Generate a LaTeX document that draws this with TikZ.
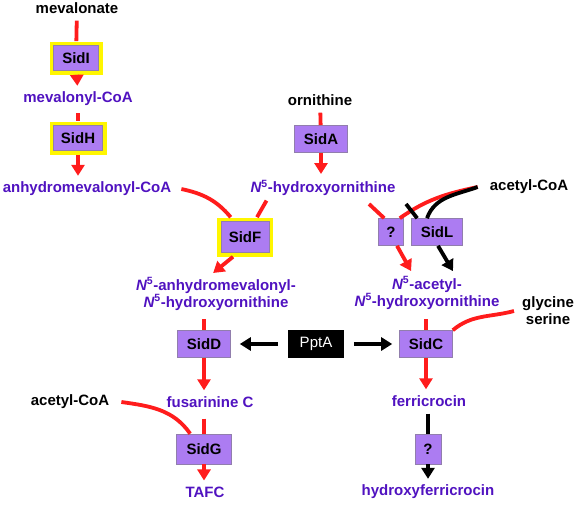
\documentclass[tikz,border=0pt]{standalone}
\usepackage{fontspec}
\setmainfont{Liberation Sans}
\usetikzlibrary{arrows.meta}
\definecolor{pathred}{RGB}{255,28,28}
\definecolor{prodviolet}{RGB}{80,18,192}
\definecolor{enzlilac}{RGB}{172,124,242}
\definecolor{frameyellow}{RGB}{255,246,0}
\newcommand{\Nf}{{\itshape N}\textsuperscript{5}}

\begin{document}
\begin{tikzpicture}[x=1pt,y=1pt,
  font=\fontsize{15}{17}\selectfont\bfseries,
  enz/.style={draw=gray!60!enzlilac, line width=0.6pt, fill=enzlilac, minimum width=53pt, minimum height=27pt, inner sep=2pt},
  framed/.style={enz, preaction={draw=frameyellow, line width=8pt}},
  redline/.style={draw=pathred, line width=3.8pt},
  redarrow/.style={redline, -{Triangle[length=11pt,width=13pt]}, shorten >=4pt},
  blackline/.style={draw=black, line width=3.8pt},
  blackarrow/.style={blackline, -{Triangle[length=11pt,width=13pt]}, shorten >=4pt}]
\useasboundingbox (0,0) rectangle (577,-506);

\begin{scope}[every node/.style={inner sep=2pt}]
\node (mev) at (77,-8) {mevalonate};
\node (orn) at (320,-100) {ornithine};
\node (acoaL) at (70,-402) {acetyl-CoA};
\node (acoaR) at (529,-187) {acetyl-CoA};
\node[align=center] (gly) at (548,-311) {glycine\\serine};
\end{scope}

\begin{scope}[every node/.style={inner sep=2pt, text=prodviolet}]
\node (mevcoa) at (78,-99) {mevalonyl-CoA};
\node (anhcoa) at (87,-189) {anhydromevalonyl-CoA};
\node (hyorn) at (323,-188) {\Nf-hydroxyornithine};
\node[align=center] (anhhy) at (216,-294) {\Nf-anhydromevalonyl-\\\Nf-hydroxyornithine};
\node[align=center] (acetyl) at (427,-293) {\Nf-acetyl-\\\Nf-hydroxyornithine};
\node (fus) at (210,-402) {fusarinine C};
\node (ferri) at (429,-401) {ferricrocin};
\node (tafc) at (205,-492) {TAFC};
\node (hyferri) at (428,-492) {hydroxyferricrocin};
\end{scope}

\begin{scope}[every node/.style={enz}]
\node[framed, minimum width=45pt, minimum height=25pt] (sidI) at (76,-58) {SidI};
\node[framed, minimum width=49pt, minimum height=25pt] (sidH) at (78,-138) {SidH};
\node[framed, minimum width=48pt, minimum height=31pt] (sidF) at (245,-237) {SidF};
\node (sidA) at (321,-139) {SidA};
\node (sidD) at (204,-344) {SidD};
\node (sidC) at (426,-344) {SidC};
\node[minimum width=55pt, minimum height=30pt] (sidG) at (204,-449) {SidG};
\node[minimum width=25pt] (qU) at (391,-232) {?};
\node[minimum width=51pt] (sidL) at (437,-232) {SidL};
\node[minimum width=26pt, minimum height=30pt] (qD) at (428,-449) {?};
\node[fill=black, draw=black, text=white, font=\fontsize{15}{17}\selectfont\mdseries, minimum width=55pt] (pptA) at (316,-344) {PptA};
\end{scope}

\draw[redline, shorten <=5pt, shorten >=4pt] (mev) -- (sidI);
\draw[redarrow, shorten <=4pt] (sidI) -- (mevcoa);
\draw[redline, shorten <=5pt, shorten >=4pt] (mevcoa) -- (sidH);
\draw[redarrow, shorten <=4pt] (sidH) -- (sidH |- anhcoa.north);
\draw[redline] ([xshift=8pt]anhcoa.east) to[out=-12,in=130] ([xshift=10pt,yshift=4pt]sidF.north west);
\draw[redline, shorten <=3pt] ([xshift=-55pt]hyorn.south) -- ([xshift=12pt,yshift=4pt]sidF.north);
\draw[redarrow] ([xshift=-12pt,yshift=-4pt]sidF.south) -- ([xshift=-6pt]anhhy.north);
\draw[redline, shorten <=7pt] (sidD |- anhhy.south) -- (sidD);
\draw[redarrow] (sidD) -- (sidD |- fus.north);
\draw[redline, shorten <=9pt] (sidG |- fus.south) -- (sidG);
\draw[redline] ([xshift=10pt]acoaL.east) to[out=-8,in=125] ([xshift=14pt]sidG.north west);
\draw[redarrow] (sidG) -- (sidG |- tafc.north);

\draw[redline, shorten <=5pt] (orn) -- (sidA);
\draw[redarrow] (sidA) -- (sidA |- hyorn.north);
\draw[redline] ([xshift=46pt,yshift=-6pt]hyorn.south) -- ([xshift=6pt]qU.north west);
\draw[redarrow] ([xshift=6pt]qU.south) -- ([xshift=-14pt]acetyl.north);
\draw[redline] ([xshift=-10pt]acoaR.west) to[out=192,in=35] ([xshift=-4pt]qU.north east);
\coordinate (stub) at (406,-204);
\draw[blackline] (stub) -- ([xshift=6pt]sidL.north west);
\draw[blackline] ([xshift=-10pt]acoaR.west) to[out=200,in=70] ([xshift=-10pt]sidL.north);
\draw[blackarrow] ([xshift=1pt]sidL.south) -- ([xshift=28pt]acetyl.north);
\draw[redline, shorten <=8pt] (sidC |- acetyl.south) -- (sidC);
\draw[redline] ([xshift=-6pt]gly.west) to[out=195,in=40] (sidC.north east);
\draw[redarrow] (sidC) -- (sidC |- ferri.north);
\draw[blackline, shorten <=5pt] (qD |- ferri.south) -- (qD);
\draw[blackarrow] (qD) -- (qD |- hyferri.north);

\draw[blackarrow, shorten <=10pt, shorten >=9pt] (pptA) -- (sidD);
\draw[blackarrow, shorten <=10pt, shorten >=7pt] (pptA) -- (sidC);
\end{tikzpicture}
\end{document}
